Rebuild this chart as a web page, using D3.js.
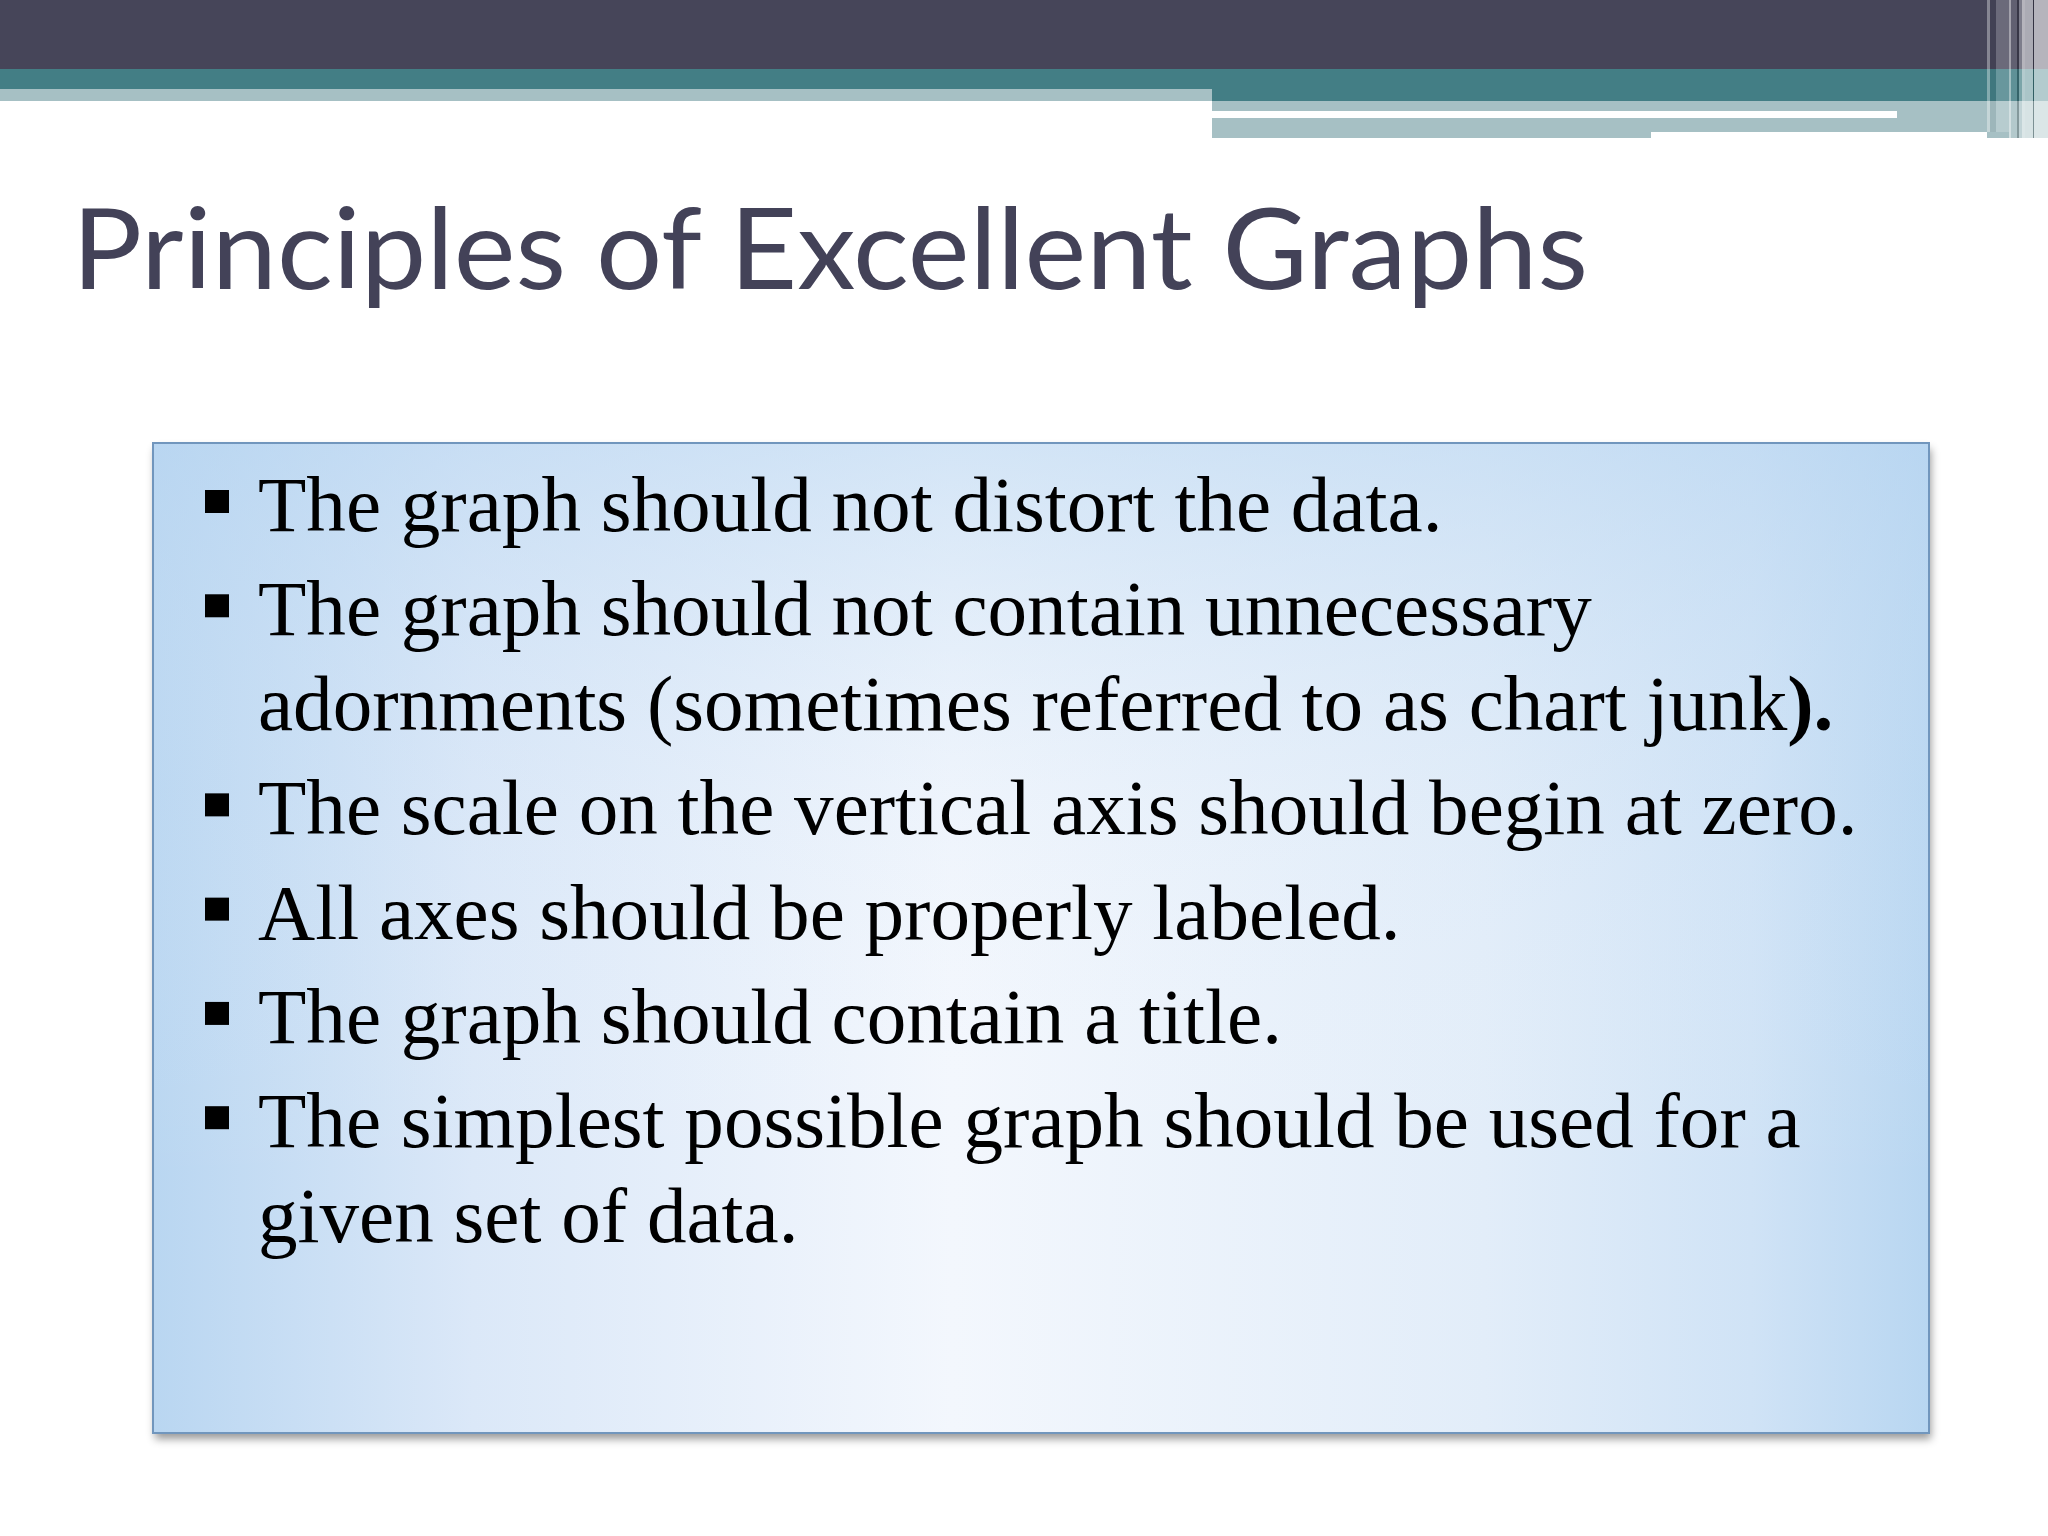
<!DOCTYPE html>
<html>
<head>
<meta charset="utf-8">
<script src="https://cdn.jsdelivr.net/npm/d3@7"></script>
<style>
  html, body { margin: 0; padding: 0; background: #ffffff; }
  svg { display: block; }
</style>
</head>
<body>
<script>
// ---- data ----
const titleText = "Principles of Excellent Graphs";
// each bullet item: list of lines; second segment of a line is bold
const bulletItems = [
  [["The graph should not distort the data."]],
  [["The graph should not contain unnecessary"], ["adornments (sometimes referred to as chart junk", ")."]],
  [["The scale on the vertical axis should begin at zero."]],
  [["All axes should be properly labeled."]],
  [["The graph should contain a title."]],
  [["The simplest possible graph should be used for a"], ["given set of data."]]
];
const lineUnits = [0, 1.1, 1.0];   // spacing units: start, new paragraph, wrapped line

const W = 2048, H = 1536;
const svg = d3.select("body").append("svg").attr("width", W).attr("height", H);
const defs = svg.append("defs");

// ---- header decoration ----
const header = svg.append("g");
const bands = [
  {x: 0, y: 0, w: 2048, h: 69, c: "#464559"},
  {x: 0, y: 69, w: 2048, h: 20, c: "#437e85"},
  {x: 1212, y: 89, w: 836, h: 12, c: "#437e85"},
  {x: 0, y: 89, w: 1212, h: 12, c: "#a6c0c4"},
  {x: 1212, y: 101, w: 775, h: 31, c: "#a6c0c4"},
  {x: 1212, y: 132, w: 439, h: 6, c: "#a6c0c4"},
  {x: 1212, y: 111, w: 685, h: 7, c: "#ffffff"},
  {x: 1987, y: 101, w: 61, h: 37, c: "#a6c0c4"}
];
header.selectAll("rect.band").data(bands).enter().append("rect")
  .attr("class", "band")
  .attr("x", d => d.x).attr("y", d => d.y).attr("width", d => d.w).attr("height", d => d.h)
  .attr("fill", d => d.c);
const stripes = [
  {x: 1987, w: 3, c: "#ffffff", o: 0.35, h: 132},
  {x: 1990, w: 6, c: "#000000", o: 0.05, h: 132},
  {x: 1996, w: 13, c: "#ffffff", o: 0.2, h: 132},
  {x: 2009, w: 2, c: "#ffffff", o: 0.5, h: 138},
  {x: 2011, w: 6, c: "#ffffff", o: 0.15, h: 138},
  {x: 2017, w: 2, c: "#000000", o: 0.2, h: 138},
  {x: 2019, w: 3, c: "#ffffff", o: 0.3, h: 138},
  {x: 2022, w: 3, c: "#ffffff", o: 0.6, h: 138},
  {x: 2025, w: 8, c: "#ffffff", o: 0.55, h: 138},
  {x: 2033, w: 1, c: "#000000", o: 0.25, h: 138},
  {x: 2034, w: 14, c: "#ffffff", o: 0.6, h: 138}
];
header.selectAll("rect.stripe").data(stripes).enter().append("rect")
  .attr("class", "stripe")
  .attr("x", d => d.x).attr("y", 0).attr("width", d => d.w).attr("height", d => d.h)
  .attr("fill", d => d.c).attr("fill-opacity", d => d.o);

// ---- title ----
svg.append("text")
  .attr("x", 72).attr("y", 289)
  .attr("font-family", "Lato, 'Open Sans', sans-serif")
  .attr("font-size", 113)
  .attr("fill", "#434258")
  .attr("textLength", 1516).attr("lengthAdjust", "spacingAndGlyphs")
  .text(titleText);

// ---- content box ----
const box = {x: 153, y: 443, w: 1776, h: 990};
const shadow = defs.append("filter").attr("id", "shadow")
  .attr("x", "-5%").attr("y", "-5%").attr("width", "110%").attr("height", "110%");
shadow.append("feDropShadow").attr("dx", 2).attr("dy", 6).attr("stdDeviation", 4)
  .attr("flood-color", "#000").attr("flood-opacity", 0.4);

const gh = defs.append("linearGradient").attr("id", "gh").attr("x1", 0).attr("x2", 1).attr("y1", 0).attr("y2", 0);
[[0, "#b9d6f1"], [0.18, "#dbe8f8"], [0.45, "#f3f7fd"], [0.75, "#e2edf9"], [0.9, "#d0e3f6"], [1, "#b8d6f1"]]
  .forEach(s => gh.append("stop").attr("offset", s[0]).attr("stop-color", s[1]));
const gv = defs.append("linearGradient").attr("id", "gv").attr("x1", 0).attr("x2", 0).attr("y1", 0).attr("y2", 1);
[[0, "#b9d6f1", 0.55], [0.35, "#cfe2f5", 0.15], [0.75, "#ffffff", 0.0], [1, "#ffffff", 0.0]]
  .forEach(s => gv.append("stop").attr("offset", s[0]).attr("stop-color", s[1]).attr("stop-opacity", s[2]));

svg.append("rect")
  .attr("x", box.x).attr("y", box.y).attr("width", box.w).attr("height", box.h)
  .attr("fill", "url(#gh)").attr("filter", "url(#shadow)");
svg.append("rect")
  .attr("x", box.x).attr("y", box.y).attr("width", box.w).attr("height", box.h)
  .attr("fill", "url(#gv)");
svg.append("rect")
  .attr("x", box.x).attr("y", box.y).attr("width", box.w).attr("height", box.h)
  .attr("fill", "none").attr("stroke", "#7196bd").attr("stroke-width", 2);

// ---- bullet text ----
const lines = [];
let u = 0;
bulletItems.forEach((item) => {
  item.forEach((segs, j) => {
    if (lines.length > 0) u += (j === 0 ? lineUnits[1] : lineUnits[2]);
    lines.push({segs, first: j === 0, u});
  });
});
const y = d3.scaleLinear().domain([0, lines[lines.length - 1].u]).range([531, 1242]);

const textG = svg.append("g")
  .attr("font-family", "'Liberation Serif', 'Times New Roman', serif")
  .attr("fill", "#000");

let fontSize = 81;
const t = textG.selectAll("text").data(lines).enter().append("text")
  .attr("x", 258).attr("y", d => y(d.u))
  .attr("font-size", fontSize);
t.each(function(d) {
  const el = d3.select(this);
  d.segs.forEach((s, k) => {
    el.append("tspan").attr("font-weight", k === 1 ? "bold" : null).text(s);
  });
});
// fit font size so that the longest line spans the reference width
const ref = t.filter(d => d.segs[0].startsWith("The scale")).node();
const wNow = ref.getComputedTextLength();
fontSize = fontSize * 1600 / wNow;
t.attr("font-size", fontSize);

const bulletSize = 24;
textG.selectAll("rect.bullet").data(lines.filter(d => d.first)).enter().append("rect")
  .attr("class", "bullet")
  .attr("x", 205).attr("y", d => y(d.u) - 41)
  .attr("width", bulletSize).attr("height", bulletSize - 1)
  .attr("fill", "#000");
</script>
</body>
</html>
